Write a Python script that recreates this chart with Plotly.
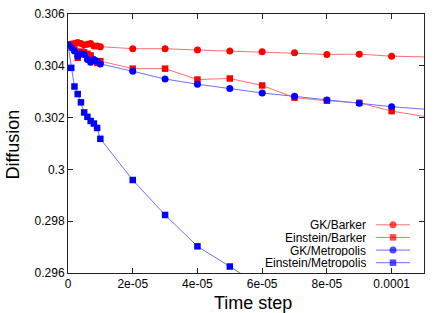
import plotly.graph_objects as go

# ---- data ----
time_step = [0, 1e-6, 2e-6, 3e-6, 4e-6, 5e-6, 6e-6, 7e-6, 8e-6, 9e-6, 1e-5,
             2e-5, 3e-5, 4e-5, 5e-5, 6e-5, 7e-5, 8e-5, 9e-5, 1e-4, 2e-4]

gk_barker = [0.30480, 0.30484, 0.30486, 0.30490, 0.30486, 0.30480, 0.30483,
             0.30486, 0.30476, 0.30476, 0.30474,
             0.30466, 0.30466, 0.30461, 0.30457, 0.30454, 0.30450, 0.30444,
             0.30445, 0.30437, 0.30412]
einstein_barker = [0.30480, 0.30475, 0.30463, 0.30431, 0.30455, 0.30452,
                   0.30446, 0.30440, 0.30420, 0.30411, 0.30418,
                   0.30389, 0.30389, 0.30347, 0.30351, 0.30324, 0.30277,
                   0.30265, 0.30257, 0.30225, 0.30022]
gk_metropolis = [0.30480, 0.30470, 0.30457, 0.30437, 0.30446, 0.30444,
                 0.30424, 0.30414, 0.30424, 0.30418, 0.30407,
                 0.30379, 0.30349, 0.30329, 0.30312, 0.30295, 0.30282,
                 0.30268, 0.30255, 0.30242, 0.30148]
einstein_metropolis = [0.30480, 0.30392, 0.30320, 0.30291, 0.30259, 0.30220,
                       0.30203, 0.30187, 0.30177, 0.30160, 0.30118,
                       0.29959, 0.29824, 0.29703, 0.29625, 0.29545, 0.29490,
                       0.29430, 0.29380, 0.29330, 0.29000]

series_names = ["GK/Barker", "Einstein/Barker", "GK/Metropolis", "Einstein/Metropolis"]
series_values = [gk_barker, einstein_barker, gk_metropolis, einstein_metropolis]

x_tickvals = [0, 2e-5, 4e-5, 6e-5, 8e-5, 1e-4]
x_ticktext = ["0", "2e-05", "4e-05", "6e-05", "8e-05", "0.0001"]
y_tickvals = [0.296, 0.298, 0.300, 0.302, 0.304, 0.306]
y_ticktext = ["0.296", "0.298", "0.3", "0.302", "0.304", "0.306"]

# ---- styles ----
marker_colors = ["#ff0000", "#ff0000", "#0000ff", "#0000ff"]
line_colors = ["rgb(255,110,110)", "rgb(255,110,110)",
               "rgb(110,110,255)", "rgb(110,110,255)"]
symbols = ["circle", "square", "circle", "square"]
sizes = [7, 6.5, 7, 6.5]
FONT = "Liberation Sans, Arial, Helvetica, sans-serif"

W, H = 447, 313
L, R, T, B = 68, 424, 14, 273


def px_x(p):
    return (p - L) / (R - L)


def px_y(p):
    return (B - p) / (B - T)


fig = go.Figure()
for name, vals, mc, lc, sym, sz in zip(series_names, series_values, marker_colors,
                                        line_colors, symbols, sizes):
    fig.add_trace(go.Scatter(
        x=time_step, y=vals, mode="lines+markers", name=name,
        line=dict(color=lc, width=1),
        marker=dict(color=mc, symbol=sym, size=sz, line=dict(width=0)),
        showlegend=False))

# ---- gnuplot-style key (text left, sample right) on a pixel-space overlay axis ----
key_rows = [224.8, 237.4, 250.1, 262.7]
for name, row, mc, lc, sym, sz in zip(series_names, key_rows, marker_colors,
                                       line_colors, symbols, sizes):
    fig.add_trace(go.Scatter(
        x=[376, 393, 410], y=[row, row, row], xaxis="x2", yaxis="y2",
        mode="lines+markers", line=dict(color=lc, width=1),
        marker=dict(color=mc, symbol=sym, size=[0, sz, 0], line=dict(width=0)),
        showlegend=False, hoverinfo="skip"))
    fig.add_annotation(x=px_x(368), y=px_y(row), xref="paper", yref="paper", text=name,
                       showarrow=False, xanchor="right", yanchor="middle", height=11,
                       font=dict(family=FONT, size=12, color="black"))

axis_common = dict(showgrid=False, zeroline=False, showline=True, linecolor="#222",
                   linewidth=1, mirror="allticks", ticks="inside", ticklen=5,
                   tickcolor="#222", automargin=False,
                   tickfont=dict(family=FONT, size=12, color="black"))

fig.update_layout(
    template="none",
    width=W, height=H,
    margin=dict(l=L, r=W - R, t=T, b=H - B, pad=0),
    plot_bgcolor="white", paper_bgcolor="white",
    xaxis=dict(range=[0, 1.1e-4], tickvals=x_tickvals, ticktext=x_ticktext, **axis_common),
    yaxis=dict(range=[0.296, 0.306], tickvals=y_tickvals, ticktext=y_ticktext, **axis_common),
    xaxis2=dict(overlaying="x", range=[L, R], visible=False, automargin=False),
    yaxis2=dict(overlaying="y", range=[B, T], visible=False, automargin=False),
    showlegend=False,
)

# axis titles
fig.add_annotation(x=px_x(253), y=px_y(303), xref="paper", yref="paper", text="Time step",
                   showarrow=False, xanchor="center", yanchor="middle",
                   font=dict(family=FONT, size=18, color="black"))
fig.add_annotation(x=px_x(12.5), y=px_y(145), xref="paper", yref="paper", text="Diffusion",
                   showarrow=False, textangle=-90, xanchor="center", yanchor="middle",
                   font=dict(family=FONT, size=18, color="black"))

fig.write_html("out.html", config={"displayModeBar": False},
               post_script="document.body.style.margin='0px';document.body.style.overflow='hidden';")
